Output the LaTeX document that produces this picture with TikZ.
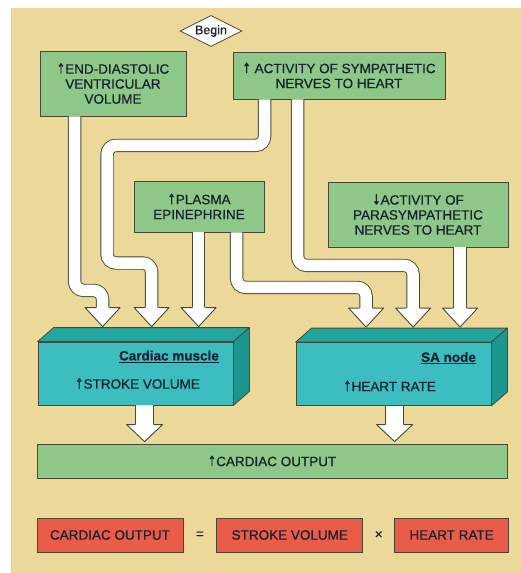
\documentclass[tikz,border=0pt]{standalone}
\usepackage{fontspec}
\setmainfont{Liberation Sans}[FakeBold=0.7]
\newfontfamily\arrowfont{DejaVu Sans}[FakeBold=1.2]
\usetikzlibrary{positioning,calc,shapes.geometric}
\definecolor{paper}{RGB}{236,216,152}
\definecolor{leaf}{RGB}{141,200,137}
\definecolor{sea}{RGB}{60,190,192}
\definecolor{seatop}{RGB}{34,166,158}
\definecolor{seaside}{RGB}{26,152,144}
\definecolor{brick}{RGB}{234,92,72}
\definecolor{ink}{RGB}{72,72,56}
\definecolor{txt}{RGB}{24,34,48}
\tikzset{
    pipe/.style={draw=ink, line width=0.9pt, double=white, double distance=11.5pt, rounded corners=9pt},
    wide pipe/.style={pipe, double distance=16.5pt}
}
\newcommand{\up}{{\arrowfont\scalebox{0.75}[1.05]{↑}}}
\newcommand{\down}{{\arrowfont\scalebox{0.75}[1.05]{↓}}}
\newcommand{\fathead}[4]{%
    \fill[white] ($(#1)+(-#2,-#4)$) -- (#1) -- ($(#1)+(#2,-#4)$) -- cycle;
    \draw[draw=ink, line width=0.9pt, line join=round] ($(#1)+(-#3,-#4)$) -- ($(#1)+(-#2,-#4)$) -- (#1) -- ($(#1)+(#2,-#4)$) -- ($(#1)+(#3,-#4)$);
}

\begin{document}
\begin{tikzpicture}[
    x=1pt, y=-1pt,
    box/.style={draw=ink, line width=0.8pt, fill=leaf, text=txt, align=center, inner sep=0pt},
    slab/.style={draw=ink, line width=0.8pt, fill=sea, inner sep=0pt, minimum width=195pt, minimum height=63pt},
    tag/.style={draw=ink, line width=0.8pt, fill=brick, text=txt, inner sep=0pt, minimum height=34pt},
    font=\fontsize{13.5}{15}\selectfont
    ]
    \useasboundingbox (0,0) rectangle (521,573);
    \fill[white] (0,0) rectangle (521,573);
    \fill[paper] (11,8) rectangle (521,573);

    \node[draw=ink, line width=0.8pt, fill=white, diamond, aspect=2, inner sep=0pt, minimum width=62pt, minimum height=31pt, font=\fontsize{12.5}{12.5}\selectfont, text=txt] (begin) at (211,31) {Begin};

    \node[box, minimum width=146pt, minimum height=65pt] (edv) at (113,83.5) {\up END-DIASTOLIC\\VENTRICULAR\\VOLUME};
    \node[box, minimum width=212pt, minimum height=47pt] (symp) at (339,75.5) {\up\ ACTIVITY OF SYMPATHETIC\\NERVES TO HEART};
    \node[box, minimum width=130pt, minimum height=51pt] (plasma) at (199,206.5) {\up PLASMA\\EPINEPHRINE};
    \node[box, minimum width=180pt, minimum height=65pt] (parasym) at (418,214.5) {\down ACTIVITY OF\\PARASYMPATHETIC\\NERVES TO HEART};

    \node[slab] (muscle) at (135.5,373.5) {};
    \node[slab] (sa) at (393.5,374) {};
    \foreach \b in {muscle,sa}{
        \filldraw[fill=seatop, draw=ink, line width=0.8pt, line join=round] (\b.north west) -- ($(\b.north west)+(16,-14)$) -- ($(\b.north east)+(16,-14)$) -- (\b.north east) -- cycle;
        \filldraw[fill=seaside, draw=ink, line width=0.8pt, line join=round] (\b.north east) -- ($(\b.north east)+(16,-14)$) -- ($(\b.south east)+(16,-14)$) -- (\b.south east) -- cycle;
    }
    \node[anchor=east, text=txt] (muscle title) at ($(muscle.north east)+(-11,15)$) {\bfseries\underline{Cardiac muscle}};
    \node[anchor=west, text=txt] (stroke) at ($(muscle.west)+(34,10)$) {\up STROKE VOLUME};
    \node[anchor=east, text=txt] (sa title) at ($(sa.north east)+(-12,16)$) {\bfseries\underline{SA node}};
    \node[anchor=west, text=txt] (rate) at ($(sa.west)+(44,12)$) {\up HEART RATE};

    \node[box, minimum width=470pt, minimum height=34pt] (output) at (272,461) {\up CARDIAC OUTPUT};

    \node[tag, minimum width=146pt] (co sum) at (110,535) {CARDIAC OUTPUT};
    \node[tag, minimum width=146pt] (sv sum) [right=33pt of co sum] {STROKE VOLUME};
    \node[tag, minimum width=114pt] (hr sum) [right=31pt of sv sum] {HEART RATE};
    \node[text=txt, inner sep=0pt] (equals) at ($(co sum.east)!0.5!(sv sum.west)$) {=};
    \node[text=txt, inner sep=0pt] (times) at ($(sv sum.east)!0.5!(hr sum.west)$) {×};

    \coordinate (m1) at ($(muscle.north west)+(65,-15)$);
    \coordinate (m2) at ($(muscle.north west)+(114,-15)$);
    \coordinate (m3) at ($(muscle.north west)+(161,-15)$);
    \coordinate (s1) at ($(sa.north west)+(70.5,-15)$);
    \coordinate (s2) at ($(sa.north west)+(117.5,-15)$);
    \coordinate (s3) at ($(sa.north west)+(164.5,-15)$);
    \coordinate (c1) at ($(output.north west)+(108,-2)$);
    \coordinate (c2) at ($(output.north west)+(358,-2)$);

    \draw[pipe] ($(edv.south west)+(35,0)$) -- ++(0,174) -| ($(m1)+(0,-18)$);
    \draw[pipe] ($(symp.south west)+(32,0)$) -- ++(0,46) -| (107,263) -| ($(m2)+(0,-18)$);
    \draw[pipe] (plasma.south -| m3) -- ($(m3)+(0,-18)$);
    \draw[pipe] ($(plasma.south west)+(103,0)$) -- ++(0,55) -| ($(s1)+(0,-18)$);
    \draw[pipe] ($(symp.south west)+(65,0)$) -- ++(0,166) -| ($(s2)+(0,-18)$);
    \draw[pipe] (parasym.south -| s3) -- ($(s3)+(0,-18)$);
    \draw[wide pipe] (muscle.south -| c1) -- ($(c1)+(0,-16)$);
    \draw[wide pipe] (sa.south -| c2) -- ($(c2)+(0,-16)$);
    \foreach \t in {m1,m2,m3,s1,s2,s3}{\fathead{\t}{17.5}{6.7}{19}}
    \foreach \t in {c1,c2}{\fathead{\t}{18}{9.2}{17}}
\end{tikzpicture}
\end{document}
